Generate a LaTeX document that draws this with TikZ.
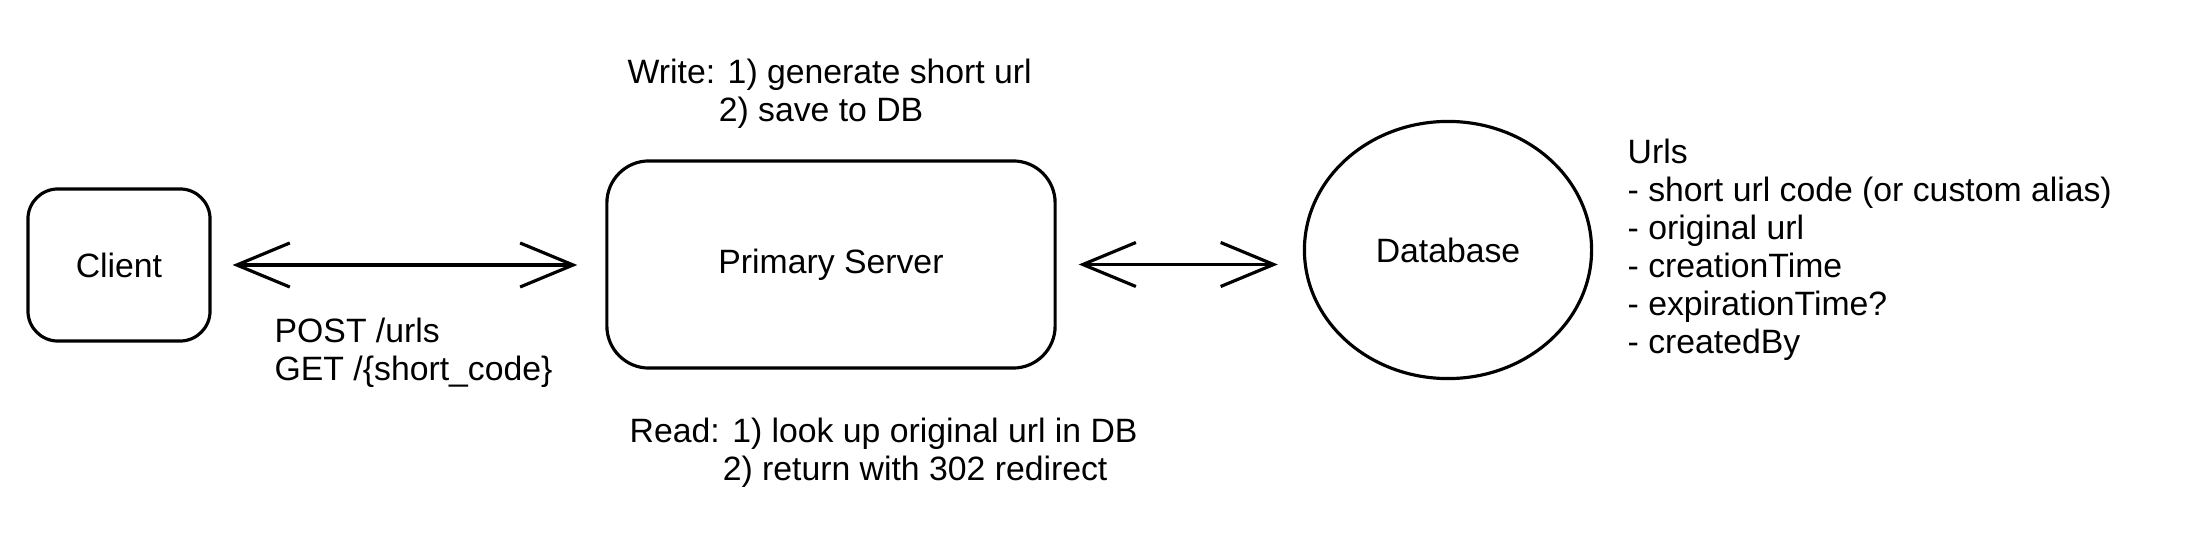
\documentclass[tikz,border=0pt]{standalone}
\usepackage{fontspec}
\setmainfont{Liberation Sans}
\usetikzlibrary{arrows.meta,shapes.geometric}
\begin{document}
\begin{tikzpicture}[x=0.01cm,y=-0.01cm,
  every node/.style={font=\fontsize{9.6}{10.8}\selectfont},
  box/.style={draw, line width=0.9pt, inner sep=0},
  lbl/.style={inner sep=0, align=left, anchor=north west},
  biarrow/.style={line width=0.9pt, {Straight Barb[length=0.53cm,width=0.44cm]}-{Straight Barb[length=0.53cm,width=0.44cm]}},
]
\useasboundingbox (0,0) rectangle (2200,552);
\node[box, rounded corners=0.3cm, minimum width=1.82cm, minimum height=1.52cm] (client) at (119,265) {Client};
\node[box, rounded corners=0.42cm, minimum width=4.48cm, minimum height=2.07cm] (srv) at (831,264.5) {Primary Server};
\node[box, ellipse, minimum width=2.87cm, minimum height=2.57cm] (db) at (1448,250) {Database};

\draw[biarrow] ([xshift=0.21cm]client.east) -- ([xshift=-0.28cm]client.east -| srv.west);
\draw[biarrow] ([xshift=0.22cm]srv.east) -- ([xshift=-0.25cm]srv.east -| db.west);

\node[lbl] (write) at (627,58) {Write: 1) generate short url\\\hspace*{0.91cm}2) save to DB};
\node[lbl] (api) at (274,317) {POST /urls\\GET /\{short\_code\}};
\node[lbl] (read) at (629,417) {Read: 1) look up original url in DB\\\hspace*{0.93cm}2) return with 302 redirect};
\node[lbl] (urls) at (1627,138) {Urls\\- short url code (or custom alias)\\- original url\\- creationTime\\- expirationTime?\\- createdBy};
\end{tikzpicture}
\end{document}
